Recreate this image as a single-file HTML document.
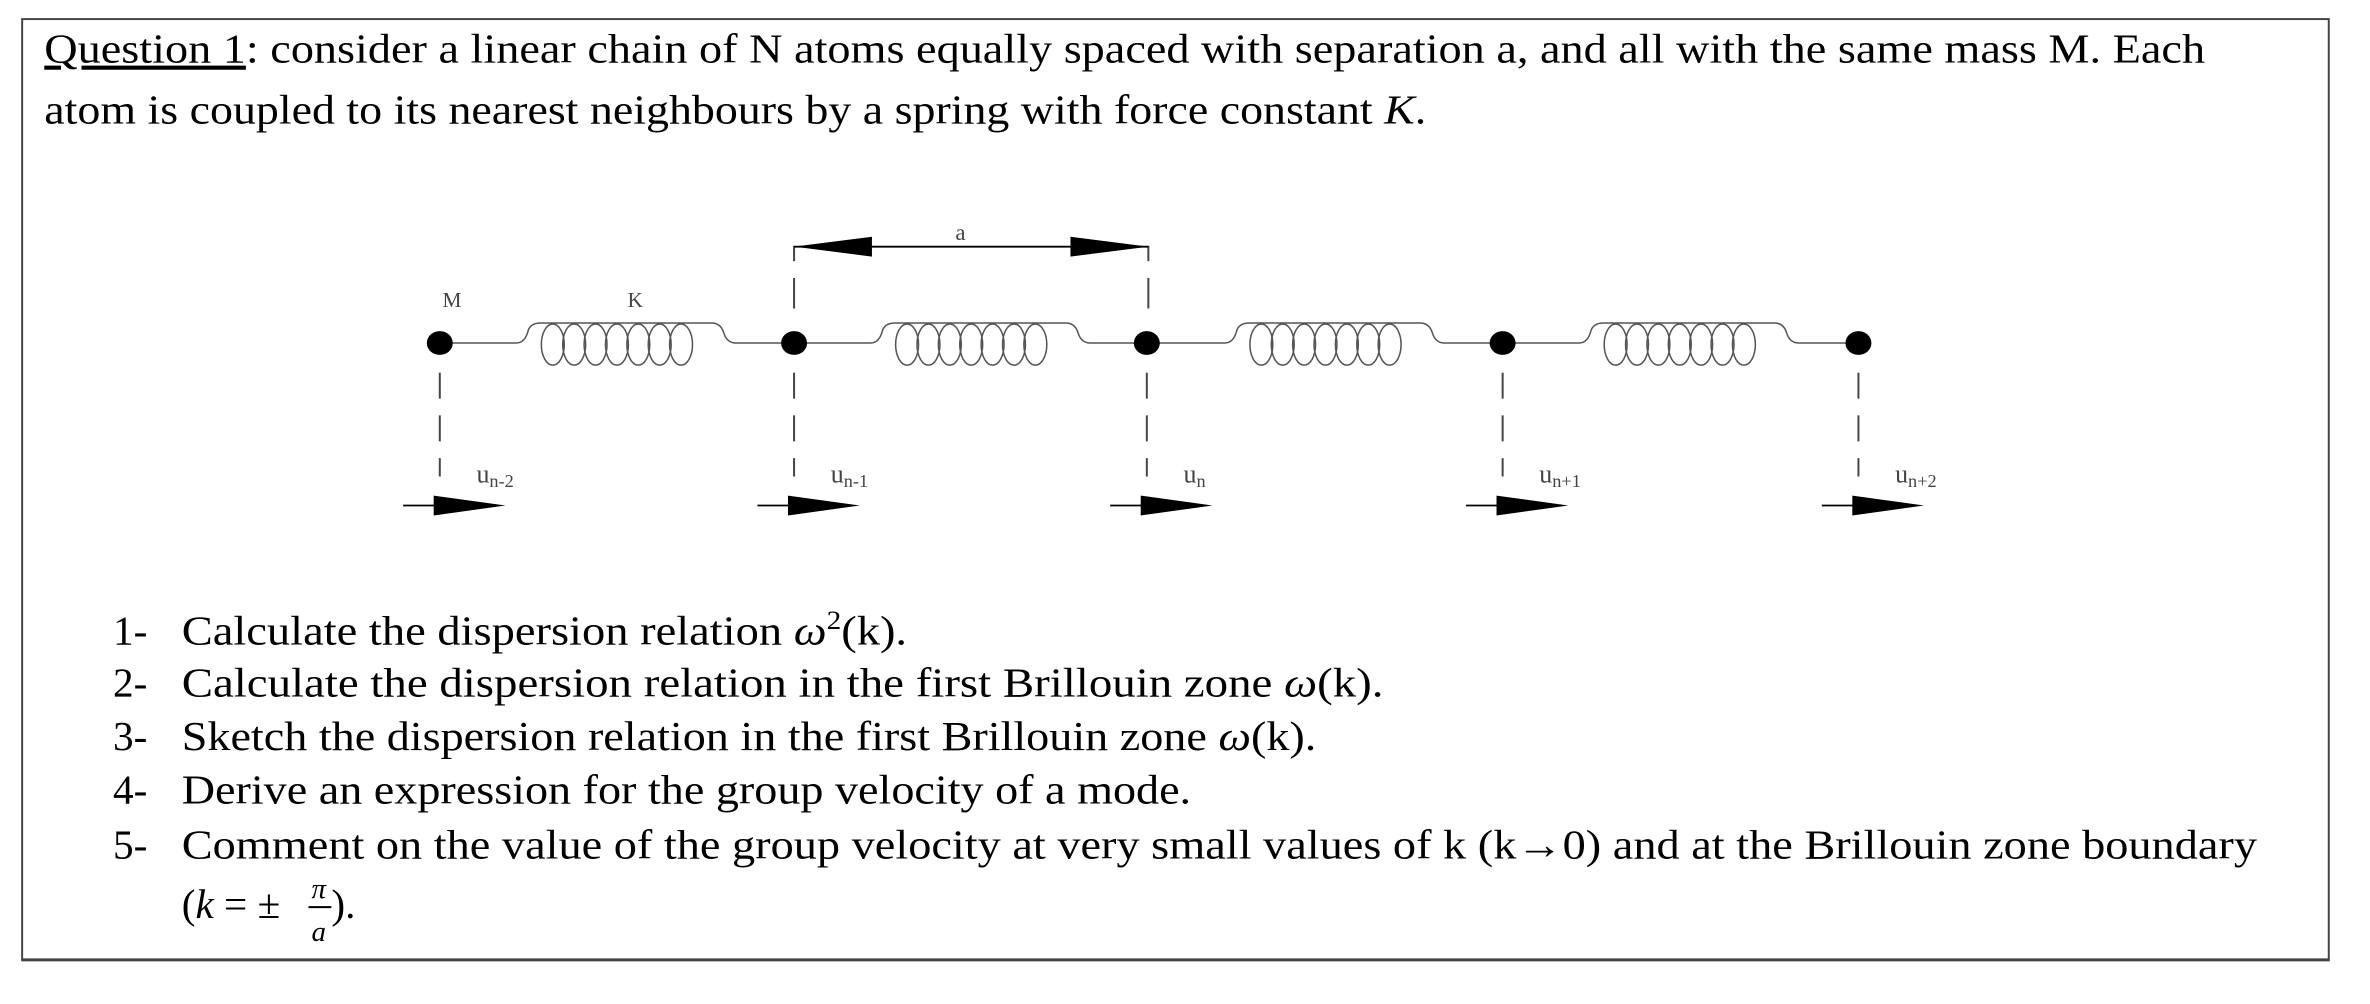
<!DOCTYPE html>
<html><head><meta charset="utf-8"><style>
html,body{margin:0;padding:0;background:#fff;}
svg{display:block;}
text{font-family:"Liberation Serif",serif;fill:#000;}
.s{font-family:"Liberation Serif",serif;fill:#444;}
</style></head><body>
<svg width="2370" height="1004" viewBox="0 0 1552 657.4" preserveAspectRatio="none" xmlns="http://www.w3.org/2000/svg">
<defs>
<g id="spring" fill="none" stroke="#555" stroke-width="1">
<path d="M0,224.6 H50 Q56,224.6 58,216 Q60,211.5 66,211.5 H178 Q184,211.5 186,218 Q188,224.6 194,224.6 H232"/>
<ellipse cx="74" cy="225.6" rx="7.5" ry="13.5"/>
<ellipse cx="88" cy="225.6" rx="7.5" ry="13.5"/>
<ellipse cx="102" cy="225.6" rx="7.5" ry="13.5"/>
<ellipse cx="116" cy="225.6" rx="7.5" ry="13.5"/>
<ellipse cx="130" cy="225.6" rx="7.5" ry="13.5"/>
<ellipse cx="144" cy="225.6" rx="7.5" ry="13.5"/>
<ellipse cx="158" cy="225.6" rx="7.5" ry="13.5"/>
</g>
<g id="atom">
<ellipse cx="0" cy="224.6" rx="8.5" ry="7.8" fill="#000"/>
<line x1="0" y1="244" x2="0" y2="312" stroke="#444" stroke-width="1.3" stroke-dasharray="17,11"/>
<line x1="-24" y1="331" x2="-3" y2="331" stroke="#000" stroke-width="1.2"/>
<polygon points="-4,324.5 43,331 -4,337.5" fill="#000"/>
</g>
</defs>
<rect x="14.5" y="12.5" width="1510.5" height="616" fill="none" stroke="#444" stroke-width="1.3"/>
<line x1="14" y1="628.5" x2="1525.6" y2="628.5" stroke="#444" stroke-width="2"/>

<text x="29" y="41" font-size="27" textLength="1415" lengthAdjust="spacingAndGlyphs"><tspan text-decoration="underline">Question 1</tspan>: consider a linear chain of N atoms equally spaced with separation a, and all with the same mass M. Each</text>
<text x="29" y="81" font-size="27" textLength="905" lengthAdjust="spacingAndGlyphs">atom is coupled to its nearest neighbours by a spring with force constant <tspan font-style="italic">K</tspan>.</text>

<use href="#spring" transform="translate(288,0)"/>
<use href="#spring" transform="translate(520,0)"/>
<use href="#spring" transform="translate(752,0)"/>
<use href="#spring" transform="translate(984,0)"/>
<use href="#atom" transform="translate(288,0)"/>
<use href="#atom" transform="translate(520,0)"/>
<use href="#atom" transform="translate(751,0)"/>
<use href="#atom" transform="translate(984,0)"/>
<use href="#atom" transform="translate(1217,0)"/>

<line x1="520" y1="182" x2="520" y2="202" stroke="#444" stroke-width="1.3"/>
<line x1="752" y1="182" x2="752" y2="202" stroke="#444" stroke-width="1.3"/>
<line x1="520" y1="161" x2="520" y2="171" stroke="#444" stroke-width="1.3"/>
<line x1="752" y1="161" x2="752" y2="171" stroke="#444" stroke-width="1.3"/>
<line x1="520" y1="161.5" x2="752" y2="161.5" stroke="#000" stroke-width="1.2"/>
<polygon points="520,161.5 571,155 571,168" fill="#000"/>
<polygon points="752,161.5 701,155 701,168" fill="#000"/>
<text class="s" x="629" y="157" font-size="15" text-anchor="middle">a</text>
<text class="s" x="296" y="201" font-size="14" text-anchor="middle">M</text>
<text class="s" x="416" y="201" font-size="14" text-anchor="middle">K</text>

<text class="s" x="312" y="316" font-size="17">u<tspan font-size="12" dy="3">n-2</tspan></text>
<text class="s" x="544" y="316" font-size="17">u<tspan font-size="12" dy="3">n-1</tspan></text>
<text class="s" x="775" y="316" font-size="17">u<tspan font-size="12" dy="3">n</tspan></text>
<text class="s" x="1008" y="316" font-size="17">u<tspan font-size="12" dy="3">n+1</tspan></text>
<text class="s" x="1241" y="316" font-size="17">u<tspan font-size="12" dy="3">n+2</tspan></text>

<g font-size="27">
<text x="74" y="422">1-</text>
<text x="119" y="422" textLength="475" lengthAdjust="spacingAndGlyphs">Calculate the dispersion relation <tspan font-style="italic">ω</tspan><tspan font-size="17" dy="-10">2</tspan><tspan dy="10">(k).</tspan></text>
<text x="74" y="456">2-</text>
<text x="119" y="456" textLength="787" lengthAdjust="spacingAndGlyphs">Calculate the dispersion relation in the first Brillouin zone <tspan font-style="italic">ω</tspan>(k).</text>
<text x="74" y="491">3-</text>
<text x="119" y="491" textLength="743" lengthAdjust="spacingAndGlyphs">Sketch the dispersion relation in the first Brillouin zone <tspan font-style="italic">ω</tspan>(k).</text>
<text x="74" y="526">4-</text>
<text x="119" y="526" textLength="661" lengthAdjust="spacingAndGlyphs">Derive an expression for the group velocity of a mode.</text>
<text x="74" y="562">5-</text>
<text x="119" y="562" textLength="1359" lengthAdjust="spacingAndGlyphs">Comment on the value of the group velocity at very small values of k (k→0) and at the Brillouin zone boundary</text>
<text x="119" y="601">(<tspan font-style="italic">k</tspan> = ±</text>
<text x="204" y="588" font-size="19" font-style="italic">π</text>
<line x1="202" y1="594" x2="217" y2="594" stroke="#000" stroke-width="1.3"/>
<text x="204" y="616" font-size="19" font-style="italic">a</text>
<text x="217" y="601">).</text>
</g>
</svg>
</body></html>
